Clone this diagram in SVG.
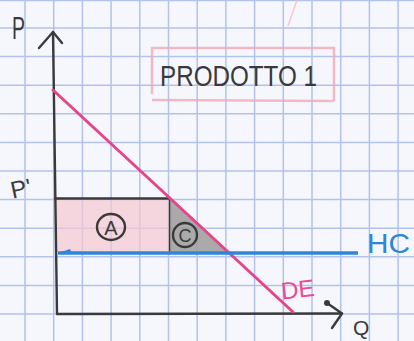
<svg xmlns="http://www.w3.org/2000/svg" width="414" height="341" viewBox="0 0 414 341">
<defs>
<style>
.grid line{stroke:#b3c2ea;stroke-width:1.5}
.ink{stroke:#3a3a3a;stroke-width:2.4;fill:none;stroke-linecap:round;stroke-linejoin:round}
.hand{font-family:"Liberation Sans","DejaVu Sans",sans-serif;fill:#3a3a3a}
.box{stroke:#f2a7b6;stroke-width:2.5;fill:none;opacity:0.8}
</style>
</defs>
<rect width="414" height="341" fill="#f6f7fd"/>
<g class="grid" id="grid">
<line x1="25" y1="0" x2="25" y2="341"/>
<line x1="53.7" y1="0" x2="53.7" y2="341"/>
<line x1="82.4" y1="0" x2="82.4" y2="341"/>
<line x1="111.1" y1="0" x2="111.1" y2="341"/>
<line x1="139.8" y1="0" x2="139.8" y2="341"/>
<line x1="168.5" y1="0" x2="168.5" y2="341"/>
<line x1="197.2" y1="0" x2="197.2" y2="341"/>
<line x1="225.9" y1="0" x2="225.9" y2="341"/>
<line x1="254.6" y1="0" x2="254.6" y2="341"/>
<line x1="283.3" y1="0" x2="283.3" y2="341"/>
<line x1="312" y1="0" x2="312" y2="341"/>
<line x1="340.7" y1="0" x2="340.7" y2="341"/>
<line x1="369.4" y1="0" x2="369.4" y2="341"/>
<line x1="398.1" y1="0" x2="398.1" y2="341"/>
<line x1="0" y1="0.5" x2="414" y2="0.5"/>
<line x1="0" y1="28" x2="414" y2="28"/>
<line x1="0" y1="56.6" x2="414" y2="56.6"/>
<line x1="0" y1="85.2" x2="414" y2="85.2"/>
<line x1="0" y1="113.8" x2="414" y2="113.8"/>
<line x1="0" y1="142.4" x2="414" y2="142.4"/>
<line x1="0" y1="171" x2="414" y2="171"/>
<line x1="0" y1="199.6" x2="414" y2="199.6"/>
<line x1="0" y1="228.2" x2="414" y2="228.2"/>
<line x1="0" y1="256.8" x2="414" y2="256.8"/>
<line x1="0" y1="285.4" x2="414" y2="285.4"/>
<line x1="0" y1="314" x2="414" y2="314"/>
</g>
<g id="title">
<line x1="297" y1="0" x2="288" y2="26" stroke="#f2b8c4" stroke-width="1.5" opacity="0.7"/>
<path class="box" d="M152 48 L334 48 L334 101 M152 47 L152 94 M152 100 L334 101"/>
<text class="hand" x="160" y="86" font-size="29" textLength="157" lengthAdjust="spacingAndGlyphs">PRODOTTO 1</text>
</g>
<g id="area-A">
<rect x="56" y="199" width="114" height="53" fill="#f5c6d0" opacity="0.7"/>
<path class="ink" d="M55 198.5 L170 198.5 L170 252"/>
<ellipse cx="111" cy="227" rx="14" ry="13" class="ink" stroke-width="1.8"/>
<text class="hand" x="111" y="235" font-size="20" text-anchor="middle">A</text>
</g>
<g id="area-C">
<polygon points="170,199 170,252 229,252" fill="#9c9c9c" opacity="0.85"/>
<circle cx="185" cy="235" r="12" class="ink" stroke-width="1.8"/>
<text class="hand" x="185" y="242" font-size="18" text-anchor="middle">C</text>
</g>
<g id="connectors">
<path class="ink" d="M53 32 L57 314 L342 313.5"/>
<path class="ink" d="M39 48 L53 32 L62 43"/>
<path class="ink" d="M327 303 L342 313.5 L332 328"/>
<circle cx="327" cy="303" r="3" fill="#3a3a3a"/>
<line x1="53" y1="90" x2="293" y2="312" stroke="#e6458a" stroke-width="3" stroke-linecap="round"/>
<line x1="58" y1="253" x2="358" y2="253" stroke="#2f86d8" stroke-width="3.5"/>
<polygon points="58,253 70,249 72,253" fill="#2f86d8"/>
</g>
<g id="labels">
<text class="hand" x="12" y="39" font-size="32" textLength="13" lengthAdjust="spacingAndGlyphs">P</text>
<text class="hand" x="10" y="197" font-size="24" transform="rotate(-12 20 186)">P'</text>
<text class="hand" x="353" y="335" font-size="21">Q</text>
<text x="281" y="298" font-size="24" font-family="Liberation Sans, sans-serif" fill="#ec4a96" transform="rotate(-6 295 288)">DE</text>
<text x="367" y="253" font-size="28" font-family="Liberation Sans, sans-serif" fill="#2f86d8" textLength="43" lengthAdjust="spacingAndGlyphs">HC</text>
</g>
</svg>
